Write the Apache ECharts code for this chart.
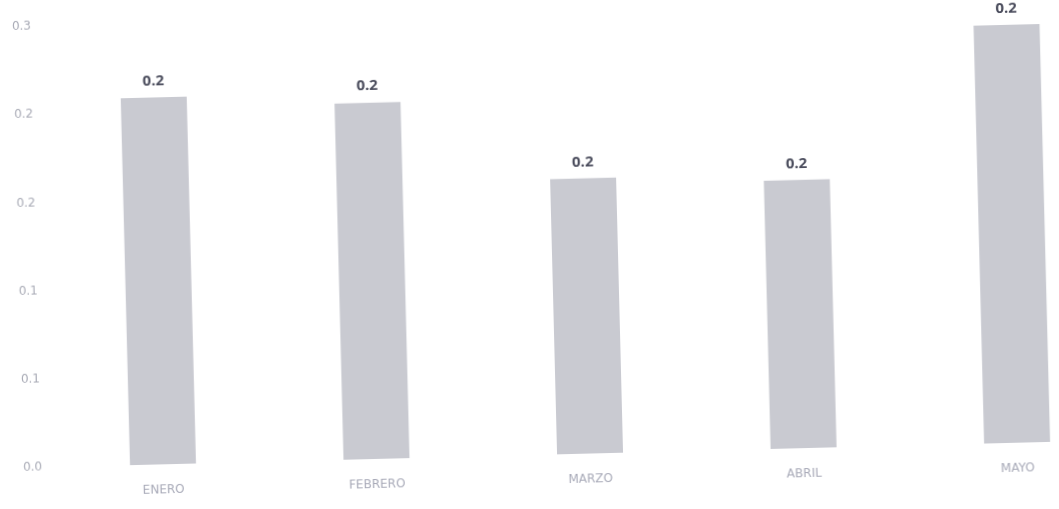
<!DOCTYPE html>
<html>
<head>
<meta charset="utf-8">
<script src="https://cdn.jsdelivr.net/npm/echarts@6/dist/echarts.min.js"></script>
<style>
  html, body { margin: 0; padding: 0; background: #ffffff; overflow: hidden; }
  #chart { width: 1059px; height: 509px; transform: rotate(-1.45deg); transform-origin: 50% 50%; }
</style>
</head>
<body>
<div id="chart"></div>
<script>
const categories = ['ENERO', 'FEBRERO', 'MARZO', 'ABRIL', 'MAYO'];
const values = [0.208, 0.202, 0.156, 0.152, 0.237];
const tickLabels = ['0.0', '0.1', '0.1', '0.2', '0.2', '0.3'];

const chart = echarts.init(document.getElementById('chart'), null, { renderer: 'canvas' });
chart.setOption({
  animation: false,
  backgroundColor: '#ffffff',
  grid: { left: 51, top: 14, width: 1068, bottom: 54, containLabel: false, outerBoundsMode: 'none' },
  xAxis: {
    type: 'category',
    data: categories,
    axisLine: { show: false },
    axisTick: { show: false },
    axisLabel: { color: '#a8aab8', fontSize: 12, margin: 20, fontFamily: 'DejaVu Sans' }
  },
  yAxis: {
    type: 'value',
    min: 0, max: 0.25, interval: 0.05,
    axisLine: { show: false },
    axisTick: { show: false },
    splitLine: { show: false },
    axisLabel: {
      color: '#a9abb6', fontSize: 12, margin: 14, fontFamily: 'DejaVu Sans',
      formatter: function (v) { return tickLabels[Math.round(v / 0.05)]; }
    }
  },
  series: [{
    type: 'bar',
    data: values,
    barWidth: 66,
    itemStyle: { color: '#c9cad1' },
    label: {
      show: true, position: 'top', distance: 9,
      color: '#4a4c5c', fontSize: 15, fontWeight: 'bold', fontFamily: 'Open Sans',
      formatter: function (p) { return p.value.toFixed(1); }
    }
  }]
});
</script>
</body>
</html>
